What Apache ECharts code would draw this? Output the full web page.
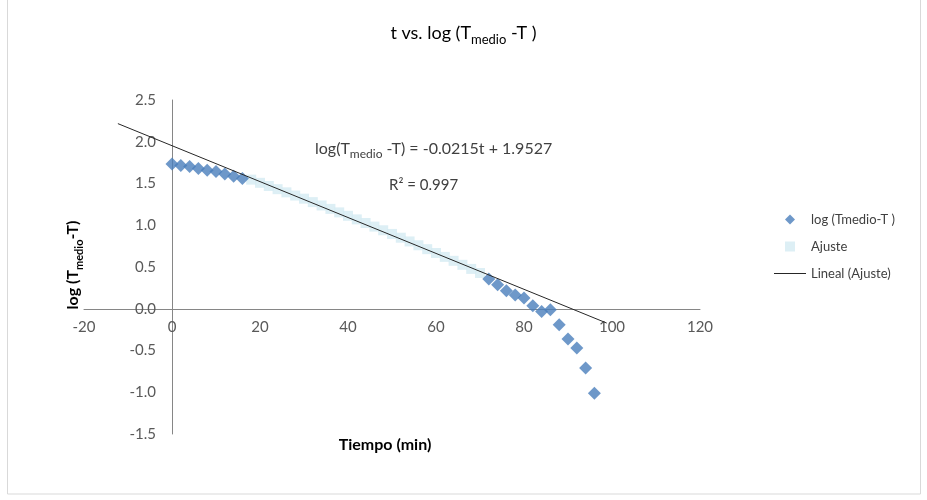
<!DOCTYPE html>
<html>
<head>
<meta charset="utf-8">
<script src="https://cdn.jsdelivr.net/npm/echarts@6/dist/echarts.min.js"></script>
<style>
  html, body { margin: 0; padding: 0; background: #fff; }
  #chart { width: 927px; height: 500px; }
</style>
</head>
<body>
<div id="chart"></div>
<script>
// datos medidos: log(Tmedio - T) frente al tiempo (min)
const tMedido = [0, 2, 4, 6, 8, 10, 12, 14, 16,
  72, 74, 76, 78, 80, 82, 84, 86, 88, 90, 92, 94, 96];
const logMedido = [1.735, 1.715, 1.703, 1.68, 1.66, 1.645, 1.615, 1.586, 1.559,
  0.356, 0.288, 0.216, 0.164, 0.128, 0.036, -0.032, -0.012, -0.192, -0.363, -0.471, -0.711, -1.011];

// tramo de ajuste
const tAjuste = [18, 20, 22, 24, 26, 28, 30, 32, 34, 36, 38, 40, 42, 44,
  46, 48, 50, 52, 54, 56, 58, 60, 62, 64, 66, 68, 70];
const logAjuste = [1.546, 1.508, 1.470, 1.432, 1.394, 1.356, 1.318, 1.277, 1.237, 1.196,
  1.154, 1.113, 1.070, 1.027, 0.984, 0.940, 0.896, 0.851, 0.806, 0.760,
  0.714, 0.668, 0.621, 0.574, 0.526, 0.477, 0.428];

// linea de tendencia (Lineal (Ajuste))
const pendiente = -0.0215;
const ordenada = 1.9527;
const tTendencia = [-12.3, 98.8];

const xTicks = [-20, 0, 20, 40, 60, 80, 100, 120];
const yTicks = [-1.5, -1.0, -0.5, 0.0, 0.5, 1.0, 1.5, 2.0, 2.5];

const fuente = 'Lato, "Open Sans", sans-serif';

// caja del area de trazado (px)
const gLeft = 84, gRight = 700, gTop = 100, gBottom = 434;
// posicion de los ejes en x = 0 y y = 0
const ejeX0 = gLeft + (0 - xTicks[0]) / (xTicks[xTicks.length - 1] - xTicks[0]) * (gRight - gLeft);
const ejeY0 = gBottom - (0 - yTicks[0]) / (yTicks[yTicks.length - 1] - yTicks[0]) * (gBottom - gTop);

const chart = echarts.init(document.getElementById('chart'));

chart.setOption({
  animation: false,
  textStyle: { fontFamily: fuente },
  title: {
    text: 't vs. log (T{s|medio} -T )',
    left: 'center',
    top: 15,
    textStyle: {
      fontSize: 18, fontWeight: 'normal', color: '#000', lineHeight: 26,
      rich: { s: { fontSize: 13, lineHeight: 13, verticalAlign: 'bottom', color: '#000' } }
    }
  },
  grid: {
    left: gLeft, right: 927 - gRight, top: gTop, bottom: 500 - gBottom,
    containLabel: false, outerBoundsMode: 'none'
  },
  legend: {
    orient: 'vertical',
    left: 769,
    top: 208,
    itemWidth: 32,
    itemHeight: 10,
    itemGap: 14,
    symbolKeepAspect: true,
    textStyle: { fontSize: 13, color: '#404040' },
    data: [
      { name: 'log (Tmedio-T )', icon: 'path://M5,0 L10,5 L5,10 L0,5 Z' },
      { name: 'Ajuste', icon: 'path://M0,0 L10,0 L10,10 L0,10 Z' },
      { name: 'Lineal (Ajuste)', icon: 'path://M0,0 L32,0 L32,1 L0,1 Z' }
    ]
  },
  xAxis: {
    type: 'value',
    min: xTicks[0],
    max: xTicks[xTicks.length - 1],
    interval: 20,
    offset: -(gBottom - ejeY0),
    axisLine: { onZero: false, lineStyle: { color: '#868686' } },
    axisTick: { show: false },
    splitLine: { show: false },
    axisLabel: { color: '#595959', fontSize: 15, margin: 11 }
  },
  yAxis: {
    type: 'value',
    min: yTicks[0],
    max: yTicks[yTicks.length - 1],
    interval: 0.5,
    offset: -(ejeX0 - gLeft),
    axisLine: { show: true, onZero: false, lineStyle: { color: '#868686' } },
    axisTick: { show: false },
    splitLine: { show: false },
    axisLabel: { color: '#595959', fontSize: 15, margin: 16, formatter: v => v.toFixed(1) }
  },
  graphic: [
    {
      type: 'rect',
      shape: { x: 7.5, y: -2, width: 913, height: 496 },
      style: { fill: 'none', stroke: '#d9d9d9', lineWidth: 1 },
      silent: true
    },
    {
      type: 'text',
      x: 73,
      y: 265,
      rotation: Math.PI / 2,
      style: {
        text: 'log (T{s|medio}-T)',
        align: 'center',
        verticalAlign: 'middle',
        fontFamily: fuente, fontSize: 16, fontWeight: 'bold', fill: '#000', lineHeight: 24,
        rich: { s: { fontFamily: fuente, fontSize: 11, lineHeight: 11, verticalAlign: 'bottom', fontWeight: 'bold', fill: '#000' } }
      }
    },
    {
      type: 'text',
      x: 385,
      y: 445,
      style: {
        text: 'Tiempo (min)', align: 'center', verticalAlign: 'middle',
        font: 'bold 16px ' + fuente, fill: '#000'
      }
    },
    {
      type: 'text',
      left: 315,
      top: 138,
      style: {
        text: 'log(T{s|medio} -T) = -0.0215t + 1.9527',
        fontFamily: fuente, fontSize: 16, fill: '#404040', lineHeight: 22,
        rich: { s: { fontFamily: fuente, fontSize: 12, lineHeight: 12, verticalAlign: 'bottom', fill: '#404040' } }
      }
    },
    {
      type: 'text',
      left: 389,
      top: 178,
      style: { text: 'R² = 0.997', font: '15px ' + fuente, fill: '#404040' }
    }
  ],
  series: [
    {
      name: 'Ajuste',
      type: 'scatter',
      symbol: 'rect',
      symbolSize: 10,
      itemStyle: { color: '#d5ebf3' },
      z: 2,
      data: tAjuste.map((t, i) => [t, logAjuste[i]])
    },
    {
      name: 'log (Tmedio-T )',
      type: 'scatter',
      symbol: 'diamond',
      symbolSize: 13,
      itemStyle: { color: '#4a7ebb' },
      z: 3,
      data: tMedido.map((t, i) => [t, logMedido[i]])
    },
    {
      name: 'Lineal (Ajuste)',
      type: 'line',
      symbol: 'none',
      z: 4,
      lineStyle: { color: '#262626', width: 1 },
      itemStyle: { color: '#262626' },
      data: tTendencia.map(t => [t, pendiente * t + ordenada])
    }
  ]
});
</script>
</body>
</html>
